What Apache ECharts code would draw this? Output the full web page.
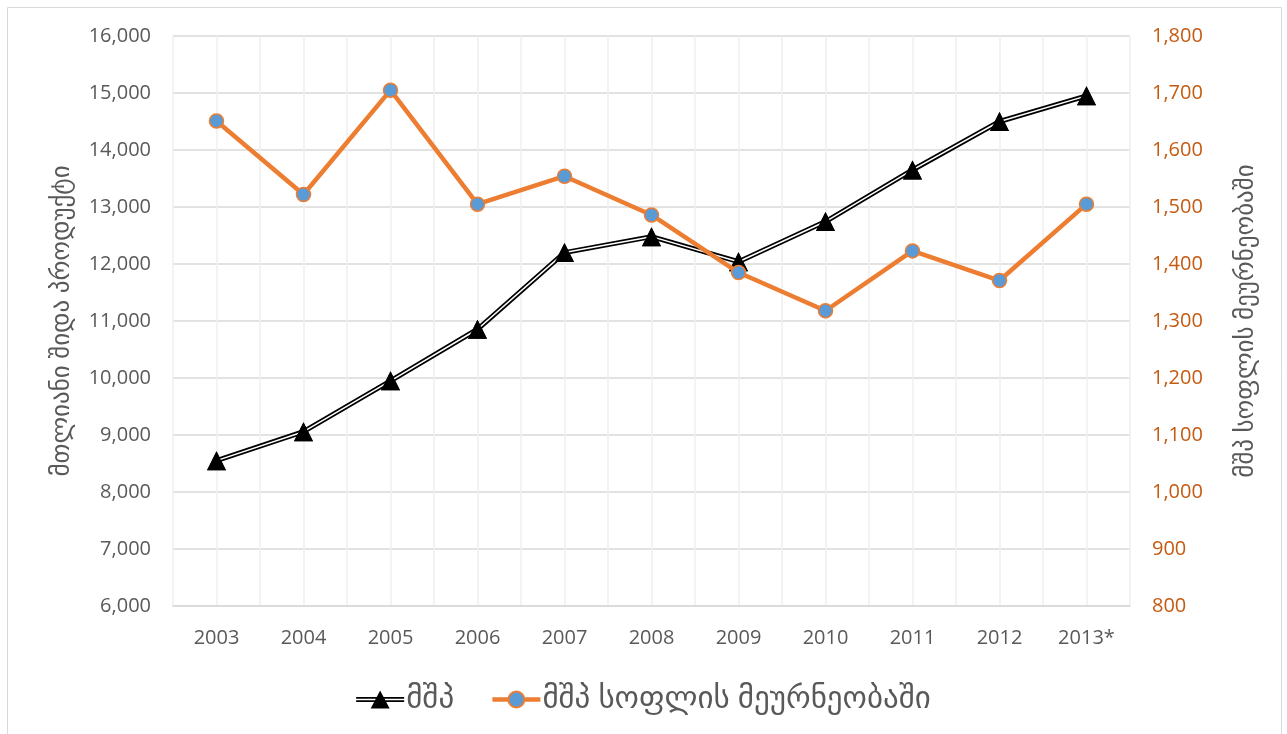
<!DOCTYPE html>
<html>
<head>
<meta charset="utf-8">
<script src="https://cdn.jsdelivr.net/npm/echarts@6/dist/echarts.min.js"></script>
<style>
html,body{margin:0;padding:0;background:#fff;}
#chart{width:1287px;height:734px;}
</style>
</head>
<body>
<div id="chart"></div>
<script>
const years = ['2003','2004','2005','2006','2007','2008','2009','2010','2011','2012','2013*']
const gdp = [8550, 9058, 9950, 10855, 12200, 12480, 12040, 12745, 13650, 14500, 14950]
const gdpAgri = [1651, 1522, 1705, 1505, 1554, 1486, 1385, 1318, 1423, 1371, 1505]
const gdpName = 'მშპ'
const agriName = 'მშპ სოფლის მეურნეობაში'
const leftTitle = 'მთლიანი შიდა პროდუქტი'
const rightTitle = 'მშპ სოფლის მეურნეობაში'

const font = "'Open Sans', 'DejaVu Sans', sans-serif"
const gray = '#595959'
const orangeText = '#C55A11'
// legend icon: double line with a triangle on it
const doubleLineIcon = 'path://M0,7.6L48,7.6L48,9.2L0,9.2Z M0,10.8L48,10.8L48,12.4L0,12.4Z M14.5,19L24,1L33.5,19Z'

const chart = echarts.init(document.getElementById('chart'))
chart.setOption({
    animation: false,
    textStyle: { fontFamily: font },
    graphic: [{
        type: 'rect',
        shape: { x: 7.5, y: 7.5, width: 1274, height: 740 },
        style: { fill: 'none', stroke: '#d9d9d9', lineWidth: 1 },
        z: -10
    }],
    grid: { left: 173, right: 157, top: 36, bottom: 128 },
    legend: {
        bottom: 14,
        left: 'center',
        itemWidth: 48,
        itemHeight: 20,
        itemGap: 36,
        textStyle: { fontSize: 31, color: gray, fontFamily: font, padding: [0, 0, 0, -3] },
        lineStyle: { width: 'inherit' },
        data: [{ name: gdpName, icon: doubleLineIcon }, agriName]
    },
    xAxis: [{
        type: 'category',
        data: years,
        axisTick: { show: false },
        axisLine: { lineStyle: { color: '#d9d9d9', width: 1.5 } },
        axisLabel: { color: gray, fontSize: 20, margin: 22 },
        splitLine: { show: false }
    }, {
        // half-category vertical grid lines
        type: 'value',
        position: 'bottom',
        min: 0,
        max: 22,
        interval: 1,
        axisLine: { show: false },
        axisTick: { show: false },
        axisLabel: { show: false },
        splitLine: { show: true, lineStyle: { color: '#efefef', width: 1.5 } }
    }],
    yAxis: [{
        type: 'value',
        min: 6000,
        max: 16000,
        interval: 1000,
        name: leftTitle,
        nameLocation: 'middle',
        nameRotate: 90,
        nameGap: 99,
        nameTextStyle: { color: gray, fontSize: 25 },
        axisLine: { show: false },
        axisTick: { show: false },
        axisLabel: { color: gray, fontSize: 20, margin: 22 },
        splitLine: { lineStyle: { color: '#d9d9d9', width: 1.5 } }
    }, {
        type: 'value',
        min: 800,
        max: 1800,
        interval: 100,
        position: 'right',
        name: rightTitle,
        nameLocation: 'middle',
        nameRotate: 90,
        nameGap: 103,
        nameTextStyle: { color: gray, fontSize: 25 },
        axisLine: { show: false },
        axisTick: { show: false },
        axisLabel: { color: orangeText, fontSize: 20, margin: 22 },
        splitLine: { show: false }
    }],
    series: [{
        name: gdpName,
        type: 'line',
        data: gdp,
        z: 3,
        symbol: 'triangle',
        symbolSize: 19,
        itemStyle: { color: '#000' },
        lineStyle: { color: '#000', width: 5 }
    }, {
        name: 'inner',
        type: 'line',
        data: gdp,
        z: 4,
        symbol: 'none',
        silent: true,
        lineStyle: { color: '#fff', width: 1.5 }
    }, {
        name: 'marks',
        type: 'line',
        data: gdp,
        z: 5,
        symbol: 'triangle',
        symbolSize: 19,
        itemStyle: { color: '#000' },
        lineStyle: { width: 0, opacity: 0 }
    }, {
        name: agriName,
        type: 'line',
        yAxisIndex: 1,
        data: gdpAgri,
        z: 6,
        symbol: 'circle',
        symbolSize: 14,
        itemStyle: { color: '#5B9BD5', borderColor: '#ED7D31', borderWidth: 1.5 },
        lineStyle: { color: '#ED7D31', width: 4.5 }
    }]
})
</script>
</body>
</html>
